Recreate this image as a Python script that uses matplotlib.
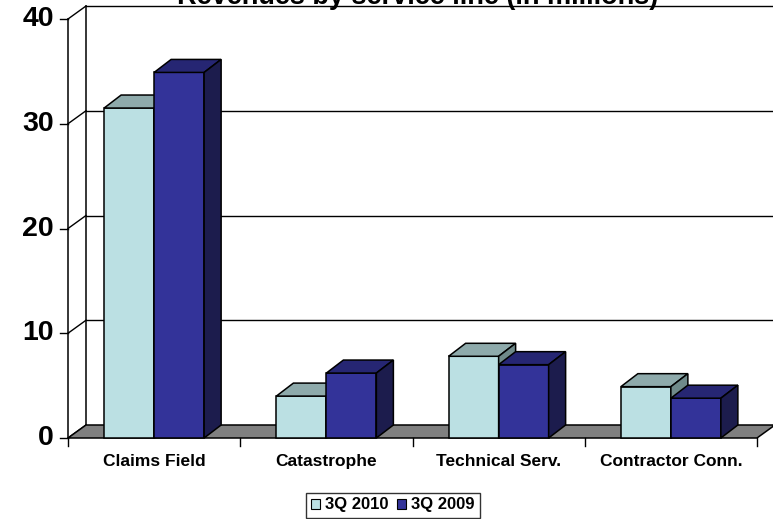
import matplotlib.pyplot as plt
from matplotlib.patches import Polygon, Patch

categories = ['Claims Field', 'Catastrophe', 'Technical Serv.', 'Contractor Conn.']
series_names = ['3Q 2010', '3Q 2009']
rev_2010 = [31.5, 4.0, 7.8, 4.9]
rev_2009 = [34.9, 6.2, 7.0, 3.8]
y_ticks = [0, 10, 20, 30, 40]

face_colors = ['#BBE0E3', '#333399']
top_colors = ['#8EAAAB', '#262673']
side_colors = ['#6F8A8A', '#1C1C4D']

plt.rcParams['font.family'] = ['Liberation Sans', 'DejaVu Sans']

fig = plt.figure(figsize=(7.73, 5.19), dpi=100)
ax = fig.add_axes([0, 0, 1, 1])
ax.axis('off')

# pixel scale of the front plane: categories across 68..757 px, values 0..40 over 438..19 px
px_x = 689 / 4.0
px_y = 419 / 40.0
ax.set_xlim(-0.5 - 68 / px_x, -0.5 + (773 - 68) / px_x)
ax.set_ylim(-(519 - 438) / px_y, 438 / px_y)

DX = 18 / px_x   # depth offset of the back wall
DY = 13 / px_y
BDX = 17 / px_x  # depth of the bars
BDY = 13 / px_y

x0, x1 = -0.5, len(categories) - 0.5
ymax = y_ticks[-1]

# floor
ax.add_patch(Polygon([(x0, 0), (x1, 0), (x1 + DX, DY), (x0 + DX, DY)],
                     closed=True, facecolor='#808080', edgecolor='black', lw=1.1, zorder=1))

# back wall gridlines and side wall lines
for v in y_ticks[1:]:
    ax.plot([x0 + DX, x1 + DX + 1], [v + DY, v + DY], color='black', lw=1.0, zorder=0)
for v in y_ticks:
    ax.plot([x0, x0 + DX], [v, v + DY], color='black', lw=1.0, zorder=0)
ax.plot([x0 + DX, x0 + DX], [DY, ymax + DY], color='black', lw=1.1, zorder=0)
ax.plot([x0, x0], [0, ymax], color='black', lw=1.1, zorder=0)

# y ticks and labels
tick_len = 8 / px_x
for v in y_ticks:
    ax.plot([x0 - tick_len, x0], [v, v], color='black', lw=1.0)
    ax.text(x0 - tick_len - 6 / px_x, v, str(v), ha='right', va='center',
            fontsize=20.5, fontweight='bold')

# category ticks and labels
for i in range(len(categories) + 1):
    ax.plot([x0 + i, x0 + i], [0, -8 / px_y], color='black', lw=1.0)
for i, name in enumerate(categories):
    ax.text(i, -28 / px_y, name, ha='center', va='baseline', fontsize=12.5, fontweight='bold')

# 3D bars
bar_w = 50 / px_x
for s, vals in enumerate([rev_2010, rev_2009]):
    for i, v in enumerate(vals):
        left = i - bar_w + s * bar_w
        right = left + bar_w
        z = 3 + i * 2 + s
        ax.bar(left, v, width=bar_w, align='edge', color=face_colors[s],
               edgecolor='black', lw=1.1, zorder=z)
        ax.add_patch(Polygon([(left, v), (right, v), (right + BDX, v + BDY), (left + BDX, v + BDY)],
                             closed=True, facecolor=top_colors[s], edgecolor='black', lw=1.1, zorder=z))
        ax.add_patch(Polygon([(right, 0), (right, v), (right + BDX, v + BDY), (right + BDX, BDY)],
                             closed=True, facecolor=side_colors[s], edgecolor='black', lw=1.1, zorder=z))

fig.text(418 / 773, 1 - 4 / 519, 'Revenues by service line (in millions)', ha='center',
         va='baseline', fontsize=19.5, fontweight='bold')

handles = [Patch(facecolor=face_colors[k], edgecolor='black', lw=0.8) for k in range(2)]
leg = fig.legend(handles, series_names, loc='center', bbox_to_anchor=(393 / 773, 1 - 505 / 519),
                 ncol=2, frameon=True, fancybox=False, handlelength=0.55, handleheight=0.55,
                 handletextpad=0.3, columnspacing=0.5, borderpad=0.3,
                 prop={'weight': 'bold', 'size': 12})
leg.get_frame().set_edgecolor('black')
leg.get_frame().set_linewidth(1.0)

fig.savefig('out.png', dpi=100)
